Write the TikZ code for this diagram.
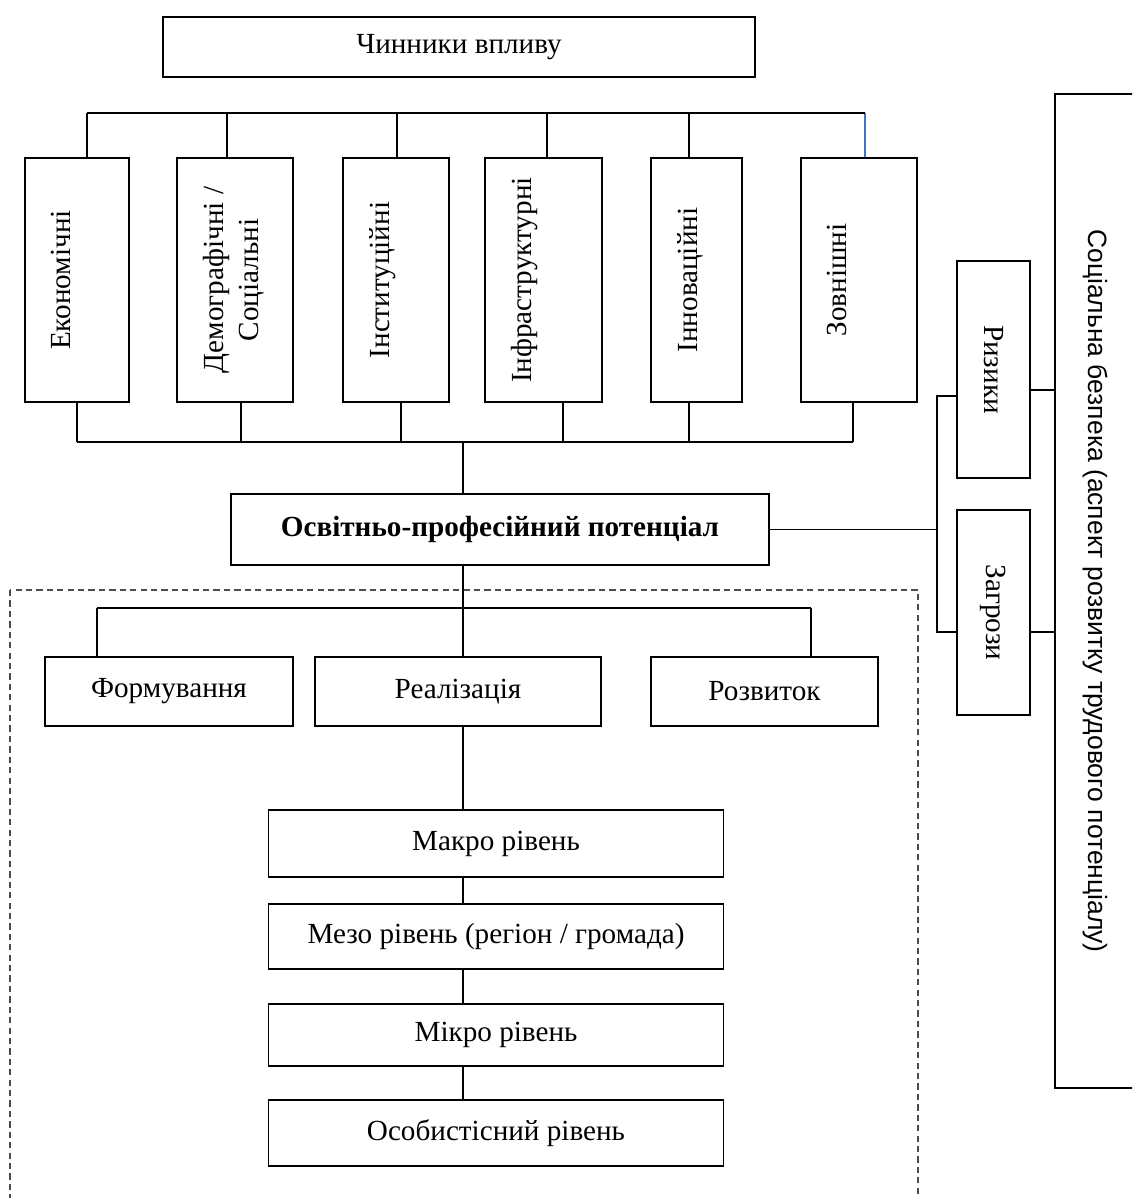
\documentclass[tikz,border=0pt]{standalone}
\usepackage{fontspec}
\setmainfont{Liberation Serif}
\setsansfont{Liberation Sans}
\usepackage{graphicx}
\usepackage{tikz}
\definecolor{wireblue}{RGB}{68,114,196}
\newlength{\pix}\setlength{\pix}{0.48pt}
\newcommand{\txtsize}{\fontsize{14}{16.8}\selectfont}

\begin{document}
\begin{tikzpicture}[x=0.48pt,y=-0.48pt,
  cell/.style={draw,line width=0.9pt,inner sep=0pt,font=\txtsize,align=center},
  wire/.style={line width=0.5pt},
  frame/.style={dash pattern=on 3pt off 2pt,line width=0.5pt,black!70}]
  \useasboundingbox (0,0) rectangle (1132,1198);
  \clip (0,0) rectangle (1132,1198);

  \node[cell,minimum width=592\pix,minimum height=60\pix] (top) at (459,47) {Чинники впливу};

  % factor columns
  \foreach \n/\x/\w/\xa/\xb/\c/\txt in {1/77/104/87/77/black/Економічні,
      2/235/116/227/241/black/{Демографічні /\\Соціальні},
      3/396/106/397/401/black/Інституційні,
      4/543.5/117/547/563/black/Інфраструктурні,
      5/696.5/91/689/689/black/Інноваційні,
      6/859/116/865/853/wireblue/Зовнішні}
  {
    \node[cell,minimum width=\w\pix,minimum height=244\pix] (e\n) at (\x,280) {};
    \node[rotate=90,anchor=north,inner sep=0pt,font=\txtsize,align=center] (t\n) at ([xshift=27\pix]e\n.west) {\txt};
    \coordinate (a\n) at (\xa,113);
    \coordinate (b\n) at (\xb,442);
    \draw[wire,\c] (a\n) -- (a\n |- e\n.north);
    \draw[wire] (e\n.south -| b\n) -- (b\n);
  }
  \draw[wire] (a1) -- (a6);
  \draw[wire] (b1) -- (b6);

  \node[cell,minimum width=538\pix,minimum height=71\pix,font=\txtsize\bfseries] (op) at (500,529.5) {Освітньо-професійний потенціал};
  \coordinate (hub) at (463,442);
  \draw[wire] (hub) -- (hub |- op.north);

  \draw[frame] (10,590) rectangle (918,1240);

  % stages
  \foreach \n/\x/\w/\txt in {1/169/248/Формування, 2/458/286/Реалізація, 3/764.5/227/Розвиток}
    \node[cell,minimum width=\w\pix,minimum height=69\pix] (f\n) at (\x,691.5) {\txt};
  \coordinate (s1) at (97,608);
  \coordinate (s2) at (463,608);
  \coordinate (s3) at (811,608);
  \draw[wire] (op.south -| s2) -- (s2);
  \draw[wire] (s1) -- (s3);
  \foreach \n in {1,2,3}
    \draw[wire] (s\n) -- (s\n |- f\n.north);

  % levels
  \foreach \n/\y/\h/\txt in {1/843.5/67/Макро рівень, 2/936.5/65/{Мезо рівень (регіон / громада)},
      3/1035/62/Мікро рівень, 4/1133/66/Особистісний рівень}
    \node[cell,minimum width=455\pix,minimum height=\h\pix] (l\n) at (496,\y) {\txt};
  \draw[wire] (f2.south -| s2) -- (s2 |- l1.north);
  \foreach \n/\m in {1/2,2/3,3/4}
    \draw[wire] (l\n.south -| s2) -- (s2 |- l\m.north);

  % risks and threats
  \node[cell,minimum width=73\pix,minimum height=217\pix] (r1) at (993.5,369.5) {\rotatebox{-90}{Ризики}};
  \node[cell,minimum width=73\pix,minimum height=205\pix] (r2) at (993.5,612.5) {\rotatebox{-90}{Загрози}};
  \node[cell,minimum width=80\pix,minimum height=994\pix,font=\fontsize{12.7}{15}\selectfont\sffamily] (sb) at (1095,591)
    {\rotatebox{-90}{Соціальна безпека (аспект розвитку трудового потенціалу)}};
  \coordinate (ra) at (937,396);
  \coordinate (rb) at (937,632);
  \coordinate (rc) at (1055,390);
  \coordinate (rd) at (1055,632);
  \draw[wire] (op.east) -- (op.east -| ra);
  \draw[wire] (r1.west |- ra) -- (ra) -- (rb) -- (r2.west |- rb);
  \draw[wire] (r1.east |- rc) -- (rc);
  \draw[wire] (r2.east |- rd) -- (rd);
\end{tikzpicture}
\end{document}
